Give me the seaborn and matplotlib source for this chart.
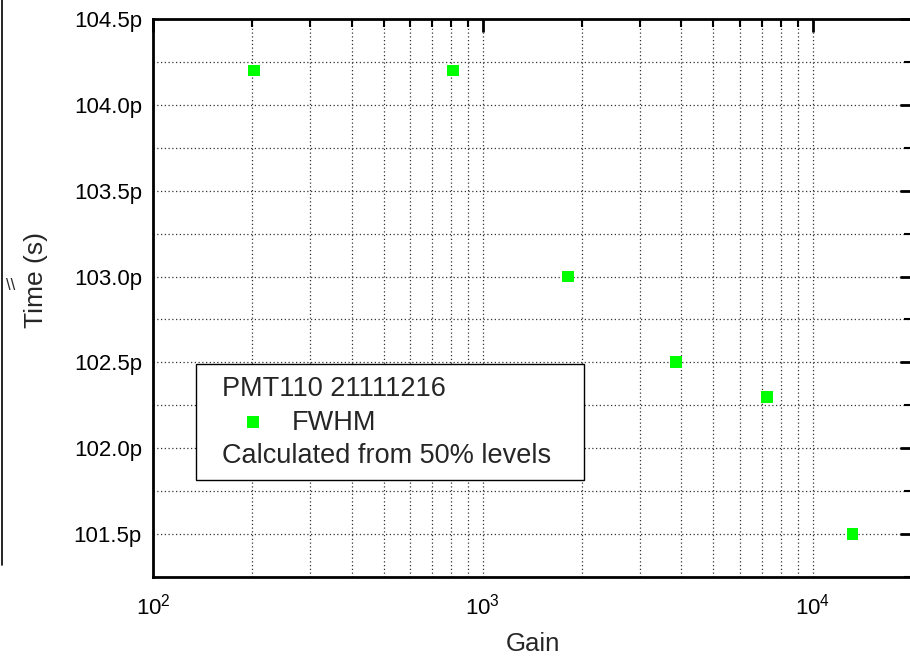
import numpy as np
import pandas as pd
import matplotlib
matplotlib.use("Agg")
import matplotlib.pyplot as plt
import seaborn as sns
from matplotlib.ticker import LogLocator, MultipleLocator, FuncFormatter
from matplotlib.patches import Rectangle
from matplotlib.lines import Line2D

gain = [202, 810, 1810, 3850, 7260, 13200]
fwhm_ps = [104.2, 104.2, 103.0, 102.5, 102.3, 101.5]
series_name = "FWHM"
legend_title = "PMT110 21111216"
legend_note = "Calculated from 50% levels"

sns.set_theme(style="white")
plt.rcParams['font.family'] = ['Liberation Sans', 'DejaVu Sans']
plt.rcParams['mathtext.fontset'] = 'custom'
plt.rcParams['mathtext.rm'] = 'Liberation Sans'

df = pd.DataFrame({"Gain": gain, "Time": fwhm_ps})

fig = plt.figure(figsize=(9.10, 6.57), dpi=100)
ax = fig.add_axes([153/910, 1 - 577/657, (912 - 153)/910, (577 - 19)/657])

sns.scatterplot(data=df, x="Gain", y="Time", ax=ax, marker="s", s=72,
                color="#00ff00", edgecolor="none", linewidth=0, legend=False, zorder=5)

ax.set_xscale("log")
ax.set_xlim(100, 20000)
ax.set_ylim(101.25, 104.5)

ax.xaxis.set_major_locator(LogLocator(base=10, numticks=10))
ax.xaxis.set_minor_locator(LogLocator(base=10, subs=np.arange(2, 10), numticks=20))
ax.yaxis.set_major_locator(MultipleLocator(0.5))
ax.yaxis.set_minor_locator(MultipleLocator(0.25))
ax.yaxis.set_major_formatter(FuncFormatter(lambda v, p: f"{v:.1f}p"))

ax.grid(True, which="major", linestyle=(0, (1, 2)), color="#333333", linewidth=0.9)
ax.grid(True, which="minor", linestyle=(0, (1, 2)), color="#333333", linewidth=0.9)

for s in ax.spines.values():
    s.set_linewidth(2)
    s.set_color("black")

ax.tick_params(axis="both", which="major", direction="in", length=9, width=2,
               top=True, right=True, labelsize=16, colors="black", pad=8)
ax.tick_params(axis="both", which="minor", direction="in", length=5.5, width=1.5,
               top=True, right=True, colors="black")
ax.tick_params(axis="x", which="major", pad=12, labelsize=16)

ax.set_xlabel("Gain", fontsize=18.5, labelpad=9)
ax.set_ylabel("Time (s)", fontsize=19)
ax.yaxis.set_label_coords(-0.138, 0.532)

# Legend box drawn manually (figure pixel coordinates)
def fx(px):
    return px / 910
def fy(py):
    return 1 - py / 657

fig.add_artist(Rectangle((fx(195.5), fy(479.5)), fx(584) - fx(195.5), fy(364) - fy(479.5),
                         transform=fig.transFigure, facecolor="white", edgecolor="black",
                         linewidth=1.0, zorder=10))
fig.text(fx(222), fy(389), legend_title, fontsize=19.5, va="center", ha="left", zorder=11)
fig.add_artist(Line2D([fx(253)], [fy(422)], marker="s", markersize=8, color="#00ff00",
                      markeredgewidth=0, linestyle="none", transform=fig.transFigure, zorder=11))
fig.text(fx(292), fy(423), series_name, fontsize=19.5, va="center", ha="left", zorder=11)
fig.text(fx(222), fy(456), legend_note, fontsize=19.5, va="center", ha="left", zorder=11)

# partial neighbouring frame on the far left
fig.add_artist(Line2D([fx(1.5), fx(1.5)], [fy(0), fy(565)], color="black", linewidth=1.2,
                      transform=fig.transFigure))
fig.text(fx(11), fy(285), "\\\\", fontsize=12, rotation=0, va="center", ha="center")

fig.savefig("out.png", dpi=100)
